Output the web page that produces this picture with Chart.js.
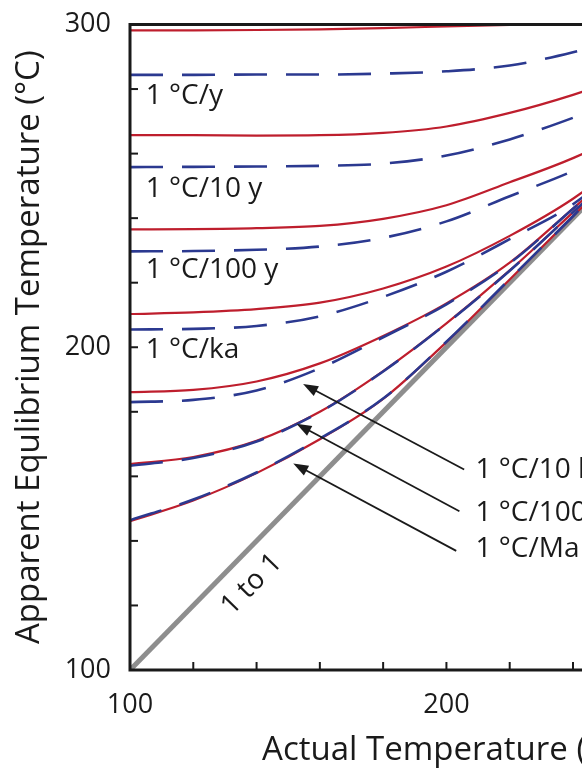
<!DOCTYPE html>
<html>
<head>
<meta charset="utf-8">
<script src="https://cdn.jsdelivr.net/npm/chart.js@4.4.1/dist/chart.umd.min.js"></script>
<style>
html, body { margin: 0; padding: 0; background: #fff; overflow: hidden; }
#wrap { width: 800px; height: 769px; }
</style>
</head>
<body>
<div id="wrap"><canvas id="closureChart"></canvas></div>
<script>
//================ data ================

// actual temperature (x axis) where every curve is sampled
var actualT = [100, 120, 140, 160, 180, 200, 220, 240, 260, 280, 300];

// solid red curves, top to bottom (apparent equilibrium temperature)
var redA = [298.2, 298.2, 298.3, 298.5, 298.9, 299.4, 299.9, 300.4, 301.2, 302.5, 304.5];
var redB = [265.7, 265.7, 265.6, 265.7, 266.4, 268.4, 272.6, 278.2, 285.0, 293.0, 302.0];
var redC = [236.5, 236.6, 236.9, 237.6, 239.8, 244.0, 251.1, 258.6, 268.0, 281.5, 300.6];
var redD = [210.3, 210.8, 211.8, 213.8, 218.2, 225.0, 234.5, 246.0, 261.0, 280.3, 300.1];
var redE = [186.1, 186.8, 189.4, 195.0, 203.5, 213.6, 226.2, 243.0, 260.3, 280.1, 300.0];
var redF = [163.8, 166.0, 171.0, 180.0, 192.6, 207.4, 223.8, 241.8, 260.2, 280.0, 300.0];
var redG = [146.1, 152.5, 161.0, 171.5, 184.0, 201.6, 221.0, 240.6, 260.1, 280.0, 300.0];

// dashed blue curves: 1 C/y, 10 y, 100 y, ka, 10 ka, 100 ka, Ma
var dashY    = [284.4, 284.4, 284.5, 284.5, 284.8, 285.5, 287.3, 291.4, 297.0, 304.0, 312.0];
var dash10Y  = [255.8, 255.9, 256.0, 256.2, 256.9, 259.4, 264.4, 271.1, 279.0, 288.5, 300.5];
var dash100Y = [229.7, 229.8, 230.2, 231.2, 233.9, 239.0, 246.8, 254.6, 264.0, 280.8, 300.3];
var dashKa   = [205.5, 205.7, 206.6, 209.6, 215.6, 223.4, 233.5, 244.3, 260.5, 280.2, 300.1];
var dash10Ka = [183.0, 183.7, 186.6, 193.5, 203.1, 213.3, 226.0, 242.9, 260.3, 280.1, 300.0];
var dash100Ka= [163.3, 165.7, 170.8, 179.9, 192.5, 207.3, 223.7, 241.8, 260.2, 280.0, 300.0];
var dashMa   = [146.4, 152.8, 161.2, 171.7, 184.1, 201.7, 221.1, 240.6, 260.1, 280.0, 300.0];

// 1 to 1 reference line
var oneToOneT = [100, 300];

// labels on the left, written under the dashed curves
var leftLabels = ['1 \u00B0C/y', '1 \u00B0C/10 y', '1 \u00B0C/100 y', '1 \u00B0C/ka'];
var leftLabelA = [277.7, 249.1, 223.9, 199.0];
var leftLabelT = 105;

// labels on the right with arrows pointing at the curves
var arrowLabels = ['1 \u00B0C/10 ka', '1 \u00B0C/100 ka', '1 \u00B0C/Ma'];
var arrowLabelA = [162.1, 148.6, 137.5];
var arrowLabelT = 209.2;
var arrowTailT = [205.6, 204.1, 203.1];
var arrowTailA = [162.1, 149.2, 136.9];
var arrowTipT = [154.7, 152.6, 151.6];
var arrowTipA = [188.6, 176.3, 164.0];

//================ build datasets ================
function pts(ys) {
    return actualT.map(function(t, i) { return {x: t, y: ys[i]}; });
}

var RED = '#be1e2d';
var NAVY = '#2b3990';
var INK = '#1a1a1a';
var FONT = "'Open Sans', 'Noto Sans', sans-serif";

var datasets = [];
[dashY, dash10Y, dash100Y, dashKa, dash10Ka, dash100Ka, dashMa].forEach(function(d) {
    datasets.push({
        data: pts(d), borderColor: NAVY, borderWidth: 2.6, borderDash: [33, 19],
        pointRadius: 0, cubicInterpolationMode: 'monotone', order: 0
    });
});
[redA, redB, redC, redD, redE, redF, redG].forEach(function(d) {
    datasets.push({
        data: pts(d), borderColor: RED, borderWidth: 2.2,
        pointRadius: 0, cubicInterpolationMode: 'monotone', order: 1
    });
});
datasets.push({
    data: oneToOneT.map(function(t) { return {x: t, y: t}; }),
    borderColor: '#8e8e8e', borderWidth: 5, pointRadius: 0, order: 2
});

//================ extra drawing: frame, inward ticks, texts, arrows ================
var decorations = {
    id: 'decorations',
    afterDatasetsDraw: function(chart) {
        var ctx = chart.ctx, a = chart.chartArea;
        var xs = chart.scales.x, ys = chart.scales.y;
        ctx.save();

        ctx.strokeStyle = INK;
        ctx.lineWidth = 3;
        ctx.strokeRect(a.left, a.top, a.right - a.left, a.bottom - a.top);

        ctx.lineWidth = 2;
        xs.ticks.forEach(function(t) {
            var px = xs.getPixelForValue(t.value);
            ctx.beginPath(); ctx.moveTo(px, a.bottom); ctx.lineTo(px, a.bottom - 8); ctx.stroke();
        });
        ys.ticks.forEach(function(t) {
            var py = ys.getPixelForValue(t.value);
            ctx.beginPath(); ctx.moveTo(a.left, py); ctx.lineTo(a.left + 8, py); ctx.stroke();
        });

        ctx.fillStyle = INK;
        ctx.font = '28px ' + FONT;
        ctx.textBaseline = 'middle';
        ctx.textAlign = 'left';
        leftLabels.forEach(function(s, i) {
            ctx.fillText(s, xs.getPixelForValue(leftLabelT), ys.getPixelForValue(leftLabelA[i]));
        });
        arrowLabels.forEach(function(s, i) {
            ctx.fillText(s, xs.getPixelForValue(arrowLabelT), ys.getPixelForValue(arrowLabelA[i]));
        });

        // arrows
        ctx.lineWidth = 1.8;
        for (var i = 0; i < arrowTipT.length; i++) {
            var x0 = xs.getPixelForValue(arrowTailT[i]), y0 = ys.getPixelForValue(arrowTailA[i]);
            var x1 = xs.getPixelForValue(arrowTipT[i]), y1 = ys.getPixelForValue(arrowTipA[i]);
            var ang = Math.atan2(y1 - y0, x1 - x0);
            ctx.beginPath(); ctx.moveTo(x0, y0); ctx.lineTo(x1 - 8 * Math.cos(ang), y1 - 8 * Math.sin(ang)); ctx.stroke();
            ctx.beginPath();
            ctx.moveTo(x1, y1);
            ctx.lineTo(x1 - 15 * Math.cos(ang) + 5.5 * Math.sin(ang), y1 - 15 * Math.sin(ang) - 5.5 * Math.cos(ang));
            ctx.lineTo(x1 - 15 * Math.cos(ang) - 5.5 * Math.sin(ang), y1 - 15 * Math.sin(ang) + 5.5 * Math.cos(ang));
            ctx.closePath();
            ctx.fill();
        }

        // "1 to 1" along the grey line
        var lx0 = xs.getPixelForValue(100), ly0 = ys.getPixelForValue(100);
        var lx1 = xs.getPixelForValue(300), ly1 = ys.getPixelForValue(300);
        var rot = Math.atan2(ly1 - ly0, lx1 - lx0);
        ctx.translate(xs.getPixelForValue(138.5), ys.getPixelForValue(126.5));
        ctx.rotate(rot);
        ctx.textAlign = 'center';
        ctx.fillText('1 to 1', 0, 0);

        ctx.restore();
    }
};

//================ chart ================
var ctx = document.getElementById('closureChart');
var closureChart = new Chart(ctx, {
    type: 'line',
    data: { datasets: datasets },
    plugins: [decorations],
    options: {
        responsive: true,
        maintainAspectRatio: false,
        animation: false,
        layout: { padding: { top: 20, right: 30, left: 0, bottom: 0 } },
        plugins: { legend: { display: false }, tooltip: { enabled: false } },
        scales: {
            x: {
                type: 'linear', min: 100, max: 300,
                grid: { display: false },
                border: { display: false },
                afterFit: function(s) { s.height = 99; },
                ticks: {
                    stepSize: 20, padding: 14, color: INK, maxRotation: 0, autoSkip: false,
                    font: { family: FONT, size: 27, lineHeight: 1 },
                    callback: function(v) { return v % 100 === 0 ? String(v) : ''; }
                },
                title: {
                    display: true, text: 'Actual Temperature (\u00B0C)', color: INK,
                    font: { family: FONT, size: 33, lineHeight: 1 },
                    padding: { top: 0, bottom: 2 }
                }
            },
            y: {
                type: 'linear', min: 100, max: 300,
                grid: { display: false },
                border: { display: false },
                afterFit: function(s) { s.width = 130; },
                ticks: {
                    stepSize: 20, padding: 11, color: INK, autoSkip: false,
                    font: { family: FONT, size: 27, lineHeight: 1 },
                    callback: function(v) { return v % 100 === 0 ? String(v) : ''; }
                },
                title: {
                    display: true, text: 'Apparent Equlibrium Temperature (\u00B0C)', color: INK,
                    font: { family: FONT, size: 33, lineHeight: 1 },
                    padding: { top: 13, bottom: 0 }
                }
            }
        }
    }
});
</script>
</body>
</html>
